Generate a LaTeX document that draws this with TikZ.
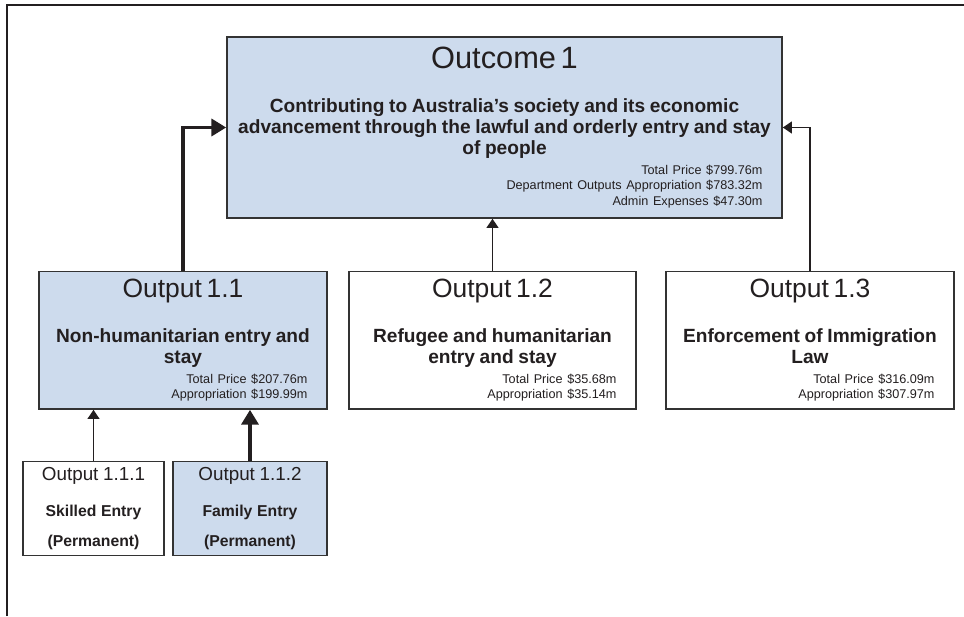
\documentclass[tikz,border=0pt]{standalone}
\usepackage{fontspec}
\setmainfont{Liberation Sans}
\usetikzlibrary{arrows.meta,positioning}
\definecolor{outblue}{RGB}{205,219,237}
\definecolor{ink}{RGB}{35,31,32}
\definecolor{edge}{RGB}{51,51,51}

\newcommand{\bigtitle}[1]{{\vspace*{10pt}\fontsize{21.9pt}{24pt}\selectfont #1\par}}
\newcommand{\midtitle}[1]{{\vspace*{7pt}\fontsize{18.8pt}{22pt}\selectfont #1\par}}
\newcommand{\aim}[2][10pt]{{\vspace{#1}\fontsize{13.6pt}{15.1pt}\selectfont\bfseries #2\par}}
\newcommand{\cost}[1]{{\vspace{3pt}\raggedleft\rightskip=11pt\fontsize{9pt}{10.9pt}\selectfont #1\par}}
\newcommand{\leaftitle}[1]{{\vspace*{4pt}\fontsize{13.4pt}{16pt}\selectfont #1\par}}
\newcommand{\leafaim}[1]{{\fontsize{11.2pt}{21.3pt}\selectfont\bfseries #1\par}}

\begin{document}
\begin{tikzpicture}[
    outbox/.style={rectangle, draw=edge, line width=1.1pt, inner xsep=0.1cm, inner ysep=0pt, align=center, text=ink},
    heavy/.style={-{Triangle[length=10.5pt,width=12pt]}, line width=2.8pt, draw=ink},
    light/.style={-{Triangle[length=6.5pt,width=8.5pt]}, line width=1pt, draw=ink}
]
    \useasboundingbox (0,0) rectangle (24.1,15.4);
    \draw[ink, line width=1.1pt] (0.175,0) |- (24.1,15.275);

    \node[outbox, fill=outblue, minimum width=13.875cm, minimum height=4.525cm, text width=13.675cm] (outcome) at (12.6125,12.2125) {%
        \bigtitle{Outcome 1}
        \aim[6pt]{Contributing to Australia’s society and its economic\\ advancement through the lawful and orderly entry and stay\\ of people}
        \cost{Total Price \$799.76m\\ Department Outputs Appropriation \$783.32m\\ Admin Expenses \$47.30m}};

    \node[outbox, fill=outblue, minimum width=7.2cm, minimum height=3.44cm, text width=7cm] (out11) at (4.575,6.894) {%
        \midtitle{Output 1.1}
        \aim{Non-humanitarian entry and\\ stay}
        \cost{Total Price \$207.76m\\ Appropriation \$199.99m}};
    \node[outbox, fill=white, minimum width=7.175cm, minimum height=3.44cm, text width=6.975cm] (out12) at (12.3125,6.894) {%
        \midtitle{Output 1.2}
        \aim{Refugee and humanitarian\\ entry and stay}
        \cost{Total Price \$35.68m\\ Appropriation \$35.14m}};
    \node[outbox, fill=white, minimum width=7.2cm, minimum height=3.44cm, text width=7cm] (out13) at (20.25,6.894) {%
        \midtitle{Output 1.3}
        \aim{Enforcement of Immigration\\ Law}
        \cost{Total Price \$316.09m\\ Appropriation \$307.97m}};

    \node[outbox, fill=white, minimum width=3.525cm, minimum height=2.35cm, text width=3.325cm] (out111) at (2.3375,2.6875) {%
        \leaftitle{Output 1.1.1}
        \leafaim{Skilled Entry\\ (Permanent)}};
    \node[outbox, fill=outblue, minimum width=3.85cm, minimum height=2.35cm, text width=3.65cm] (out112) at (6.25,2.6875) {%
        \leaftitle{Output 1.1.2}
        \leafaim{Family Entry\\ (Permanent)}};

    \draw[heavy] (out11.north) |- (outcome.west);
    \draw[light] (out12.north) -- (out12.north |- outcome.south);
    \draw[light] (out13.north) |- (outcome.east);
    \draw[light] (out111.north) -- (out111.north |- out11.south);
    \draw[heavy] (out112.north) -- (out112.north |- out11.south);
\end{tikzpicture}
\end{document}
